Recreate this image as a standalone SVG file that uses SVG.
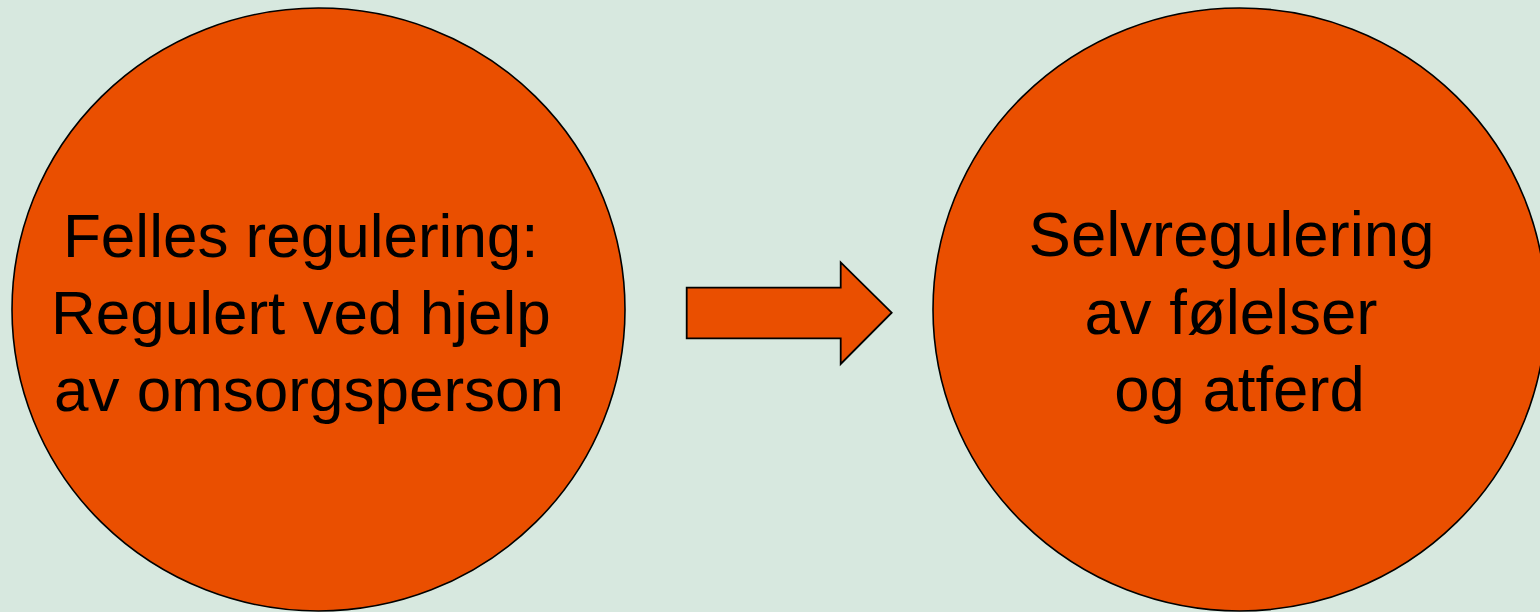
<svg xmlns="http://www.w3.org/2000/svg" width="1540" height="612" viewBox="0 0 1540 612">
<style>
.node{fill:#EA4F00;stroke:#000;stroke-width:1.6}
.lbl{font-family:"Liberation Sans",Arial,sans-serif;font-size:62px;fill:#000}
.lbl-r{font-size:63.5px}
</style>
<rect width="1540" height="612" fill="#D7E8DF"/>
<g id="node-left">
<ellipse class="node" cx="318.5" cy="309.5" rx="306.5" ry="301.5"/>
<text class="lbl"><tspan x="63" y="257">Felles regulering:</tspan><tspan x="51" y="334">Regulert ved hjelp</tspan><tspan x="54" y="411">av omsorgsperson</tspan></text>
</g>
<g id="node-right">
<ellipse class="node" cx="1239.5" cy="309.5" rx="306.5" ry="301.5"/>
<text class="lbl lbl-r" text-anchor="middle"><tspan x="1231.5" y="256">Selvregulering</tspan><tspan x="1231" y="334">av følelser</tspan><tspan x="1239.5" y="411">og atferd</tspan></text>
</g>
<g id="connectors">
<polygon points="686.7,287.7 840.7,287.7 840.7,262.3 891.7,312.7 840.7,364 840.7,338.3 686.7,338.3" fill="#EA4F00" stroke="#000" stroke-width="1.8"/>
</g>
</svg>
